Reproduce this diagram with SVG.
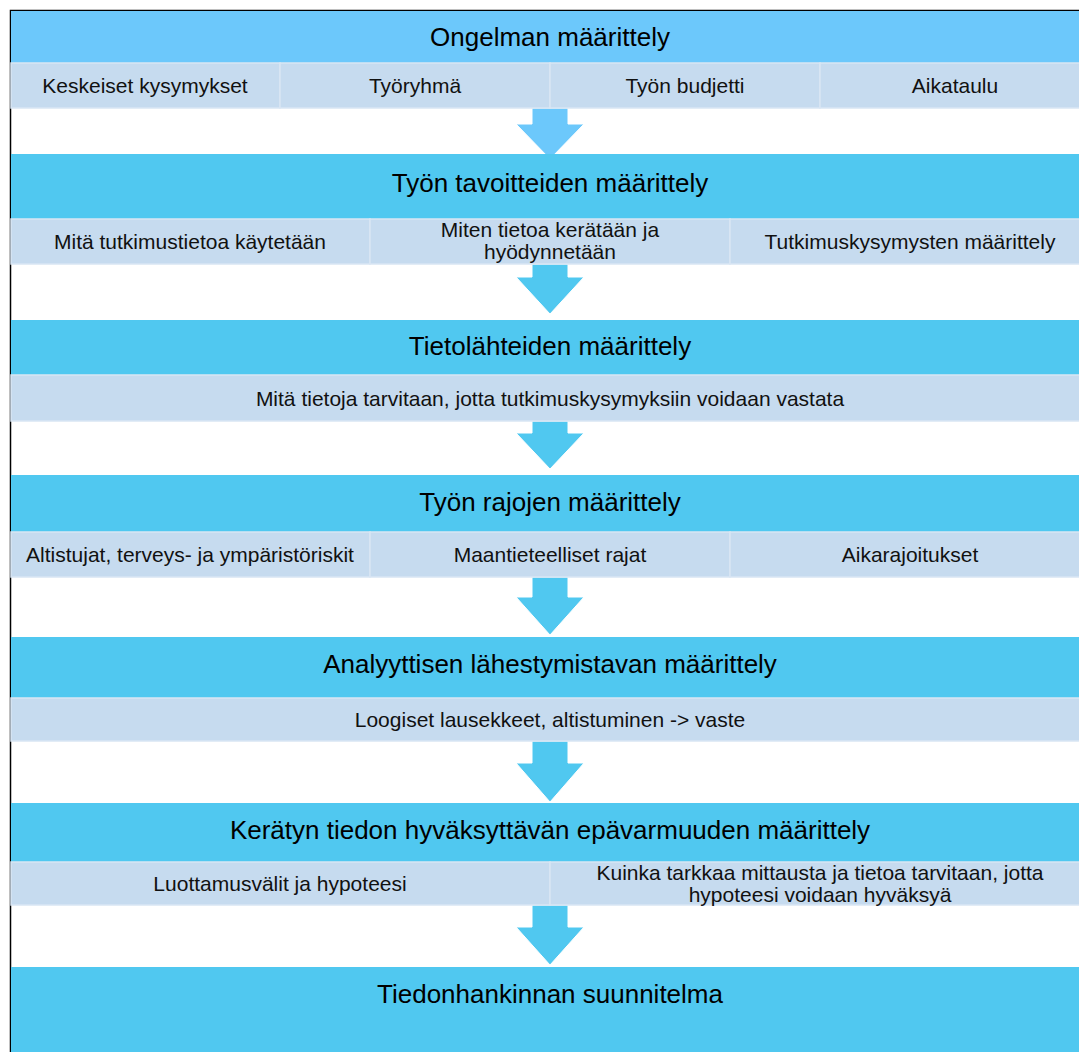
<svg xmlns="http://www.w3.org/2000/svg" width="1079" height="1052" viewBox="0 0 1079 1052">
  <style>
    .hdr1 { fill: #6CC8FB; }
    .hdr { fill: #50C8F0; }
    .cell { fill: #C6DBEF; stroke: #D9E6F4; stroke-width: 1.5; }
    .ht { font-family: "Liberation Sans", Arial, sans-serif; font-size: 26px; fill: #000; text-anchor: middle; }
    .st { font-family: "Liberation Sans", Arial, sans-serif; font-size: 21px; fill: #111; text-anchor: middle; }
    .arr1 { fill: #6CC8FB; stroke: #FFFFFF; stroke-width: 1; }
    .arr { fill: #50C8F0; stroke: #FFFFFF; stroke-width: 1; }
  </style>
  <rect x="0" y="0" width="1079" height="1052" fill="#FFFFFF"/>
  <rect x="10.5" y="10.5" width="1100" height="1100" fill="#FFFFFF" stroke="#000000" stroke-width="1.5"/>

  <g id="connectors">
    <polygon class="arr1" points="532,108 568,108 568,124 584,124 550,159 516,124 532,124"/>
    <polygon class="arr" points="532,264 568,264 568,277 584,277 550,314 516,277 532,277"/>
    <polygon class="arr" points="532,421 568,421 568,433 584,433 550,469 516,433 532,433"/>
    <polygon class="arr" points="532,577 568,577 568,597 584,597 550,635 516,597 532,597"/>
    <polygon class="arr" points="532,741 568,741 568,763 584,763 550,802 516,763 532,763"/>
    <polygon class="arr" points="532,905 568,905 568,927 584,927 550,965 516,927 532,927"/>
  </g>

  <g id="node1">
    <rect class="hdr1" x="11" y="11" width="1068" height="52"/>
    <text class="ht" x="550" y="46">Ongelman määrittely</text>
    <rect class="cell" x="11" y="63" width="269" height="45"/>
    <rect class="cell" x="280" y="63" width="270" height="45"/>
    <rect class="cell" x="550" y="63" width="270" height="45"/>
    <rect class="cell" x="820" y="63" width="270" height="45"/>
    <text class="st" x="145" y="93">Keskeiset kysymykset</text>
    <text class="st" x="415" y="93">Työryhmä</text>
    <text class="st" x="685" y="93">Työn budjetti</text>
    <text class="st" x="955" y="93">Aikataulu</text>
  </g>

  <g id="node2">
    <rect class="hdr" x="11" y="154" width="1068" height="65"/>
    <text class="ht" x="550" y="192">Työn tavoitteiden määrittely</text>
    <rect class="cell" x="11" y="219" width="359" height="45"/>
    <rect class="cell" x="370" y="219" width="360" height="45"/>
    <rect class="cell" x="730" y="219" width="360" height="45"/>
    <text class="st" x="190" y="249">Mitä tutkimustietoa käytetään</text>
    <text class="st" x="550" y="237">Miten tietoa kerätään ja</text>
    <text class="st" x="550" y="259">hyödynnetään</text>
    <text class="st" x="910" y="249">Tutkimuskysymysten määrittely</text>
  </g>

  <g id="node3">
    <rect class="hdr" x="11" y="320" width="1068" height="55"/>
    <text class="ht" x="550" y="355">Tietolähteiden määrittely</text>
    <rect class="cell" x="11" y="375" width="1079" height="46"/>
    <text class="st" x="550" y="406">Mitä tietoja tarvitaan, jotta tutkimuskysymyksiin voidaan vastata</text>
  </g>

  <g id="node4">
    <rect class="hdr" x="11" y="475" width="1068" height="57"/>
    <text class="ht" x="550" y="511">Työn rajojen määrittely</text>
    <rect class="cell" x="11" y="532" width="359" height="45"/>
    <rect class="cell" x="370" y="532" width="360" height="45"/>
    <rect class="cell" x="730" y="532" width="360" height="45"/>
    <text class="st" x="190" y="562">Altistujat, terveys- ja ympäristöriskit</text>
    <text class="st" x="550" y="562">Maantieteelliset rajat</text>
    <text class="st" x="910" y="562">Aikarajoitukset</text>
  </g>

  <g id="node5">
    <rect class="hdr" x="11" y="637" width="1068" height="61"/>
    <text class="ht" x="550" y="673">Analyyttisen lähestymistavan määrittely</text>
    <rect class="cell" x="11" y="698" width="1079" height="43"/>
    <text class="st" x="550" y="727">Loogiset lausekkeet, altistuminen -&gt; vaste</text>
  </g>

  <g id="node6">
    <rect class="hdr" x="11" y="803" width="1068" height="59"/>
    <text class="ht" x="550" y="839">Kerätyn tiedon hyväksyttävän epävarmuuden määrittely</text>
    <rect class="cell" x="11" y="862" width="539" height="43"/>
    <rect class="cell" x="550" y="862" width="540" height="43"/>
    <text class="st" x="280" y="891">Luottamusvälit ja hypoteesi</text>
    <text class="st" x="820" y="880">Kuinka tarkkaa mittausta ja tietoa tarvitaan, jotta</text>
    <text class="st" x="820" y="902">hypoteesi voidaan hyväksyä</text>
  </g>

  <g id="node7">
    <rect class="hdr" x="11" y="967" width="1068" height="85"/>
    <text class="ht" x="550" y="1003">Tiedonhankinnan suunnitelma</text>
  </g>
</svg>
